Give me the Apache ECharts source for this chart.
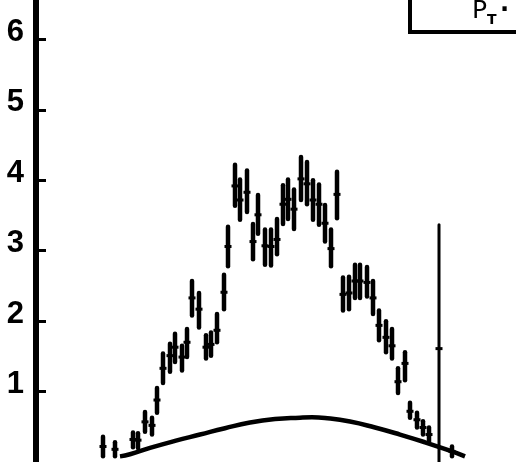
<!DOCTYPE html>
<html>
<head>
<meta charset="utf-8">
<script src="https://cdn.jsdelivr.net/npm/echarts@6/dist/echarts.min.js"></script>
<style>
  html, body { margin: 0; padding: 0; background: #fff; }
  #chart { width: 516px; height: 462px; }
</style>
</head>
<body>
<div id="chart"></div>
<script>
// Bin positions (arbitrary horizontal units) and measured yields with error limits
const binX = [6.7, 7.9, 9.7, 10.2, 10.9, 11.6, 12.1, 12.7, 13.4, 13.9, 14.6, 15.1,
  15.6, 16.3, 17.0, 17.5, 18.1, 18.8, 19.2, 19.9, 20.4, 21.1, 21.7, 22.2, 22.9, 23.5,
  24.1, 24.7, 25.2, 25.8, 26.5, 27.1, 27.7, 28.3, 28.9, 29.5, 30.1, 30.7, 31.3, 31.9,
  32.4, 33.1, 33.7, 34.3, 35.0, 35.6, 36.2, 36.9, 37.4, 38.1, 38.7, 39.3, 41.6];
const yieldVal = [0.22, 0.18, 0.32, 0.31, 0.57, 0.52, 0.88, 1.33, 1.51, 1.63, 1.49, 1.70,
  2.33, 2.17, 1.63, 1.67, 1.87, 2.41, 3.06, 3.92, 3.72, 3.83, 3.13, 3.51, 3.07, 3.06,
  3.16, 3.66, 3.73, 3.59, 4.02, 3.95, 3.72, 3.66, 3.39, 3.03, 3.80, 2.38, 2.40, 2.57,
  2.57, 2.55, 2.33, 1.94, 1.77, 1.65, 1.14, 1.40, 0.72, 0.60, 0.49, 0.39, 0.15];
const yieldLow = [0.08, 0.08, 0.21, 0.20, 0.43, 0.39, 0.70, 1.12, 1.28, 1.42, 1.30, 1.49,
  2.08, 1.91, 1.47, 1.51, 1.70, 2.17, 2.78, 3.64, 3.44, 3.55, 2.88, 3.24, 2.80, 2.79,
  2.95, 3.38, 3.45, 3.31, 3.72, 3.66, 3.44, 3.37, 3.13, 2.78, 3.46, 2.15, 2.17, 2.33,
  2.33, 2.35, 2.10, 1.73, 1.56, 1.47, 0.98, 1.16, 0.63, 0.49, 0.39, 0.29, 0.08];
const yieldHigh = [0.36, 0.28, 0.42, 0.41, 0.71, 0.63, 1.05, 1.54, 1.68, 1.82, 1.65, 1.89,
  2.57, 2.40, 1.80, 1.84, 2.10, 2.66, 3.34, 4.22, 4.01, 4.14, 3.38, 3.79, 3.30, 3.30,
  3.45, 3.93, 4.01, 3.87, 4.33, 4.26, 4.00, 3.94, 3.65, 3.30, 4.12, 2.62, 2.63, 2.80,
  2.80, 2.77, 2.57, 2.15, 2.00, 1.89, 1.33, 1.56, 0.84, 0.70, 0.58, 0.49, 0.22];

// Single bin with a large uncertainty
const wideX = [40.3];
const wideVal = [1.61];
const wideLow = [-0.15];
const wideHigh = [3.37];

// Smooth expectation curve
const curveX = [8.4, 9.4, 11.4, 13.9, 16.4, 18.9, 21.4, 23.9, 26.4, 27.6, 28.9, 31.4, 33.9, 36.4, 38.9, 41.4, 42.9];
const curveY = [0.08, 0.11, 0.20, 0.30, 0.39, 0.48, 0.56, 0.61, 0.63, 0.635, 0.625, 0.575, 0.49, 0.39, 0.28, 0.16, 0.08];

// Vertical axis tick labels
const yTicks = [1, 2, 3, 4, 5, 6];
const yTickLabels = ['1', '2', '3', '4', '5', '6'];

const toRows = (xs, v, lo, hi) => xs.map((x, i) => [x, v[i], lo[i], hi[i]]);

function errorBar(width) {
  return function (params, api) {
    const x = api.value(0);
    const c = api.coord([x, api.value(1)]);
    const lo = api.coord([x, api.value(2)]);
    const hi = api.coord([x, api.value(3)]);
    return {
      type: 'group',
      children: [
        { type: 'line', shape: { x1: lo[0], y1: lo[1], x2: hi[0], y2: hi[1] },
          style: { stroke: '#000', lineWidth: width, lineCap: 'round' } },
        { type: 'rect', shape: { x: c[0] - 3.5, y: c[1] - 1.5, width: 7, height: 3 },
          style: { fill: '#000' } }
      ]
    };
  };
}

const chart = echarts.init(document.getElementById('chart'), null, { renderer: 'canvas' });
chart.setOption({
  backgroundColor: '#fff',
  animation: false,
  grid: { left: 36, right: 0, top: 0, bottom: -6 },
  xAxis: { type: 'value', min: 0, max: 48, show: false },
  yAxis: {
    type: 'value', min: 0, max: 6.56,
    splitLine: { show: false },
    axisLine: { show: true, lineStyle: { color: '#000', width: 6 } },
    axisTick: { show: true, inside: true, length: 10, lineStyle: { color: '#000', width: 3 },
      customValues: yTicks },
    axisLabel: {
      customValues: yTicks,
      formatter: v => { const i = yTicks.indexOf(Math.round(v)); return i >= 0 ? '{n|' + yTickLabels[i] + '}' : ''; },
      margin: 12,
      color: '#000', fontSize: 31, fontWeight: 'bold', fontFamily: 'Liberation Sans',
      rich: {
        n: { color: '#000', fontSize: 31, fontWeight: 'bold', fontFamily: 'Liberation Sans',
          lineHeight: 31, padding: [0, 0, 14, 0] }
      }
    }
  },
  graphic: [
    { type: 'rect', shape: { x: 410, y: -10, width: 120, height: 42 },
      style: { fill: 'none', stroke: '#000', lineWidth: 4 } },
    { type: 'text', x: 472, y: -5,
      style: {
        text: '{p|P}{s|T} {d|·}',
        rich: {
          p: { fontSize: 25, fontFamily: 'DejaVu Sans', fill: '#000' },
          s: { fontSize: 14, fontFamily: 'DejaVu Sans', fontWeight: 'bold', fill: '#000', padding: [18, 0, 0, 0] },
          d: { fontSize: 24, fontFamily: 'DejaVu Sans', fontWeight: 'bold', fill: '#000' }
        }
      } }
  ],
  series: [
    { type: 'line', data: curveX.map((x, i) => [x, curveY[i]]), smooth: 0.5, symbol: 'none',
      lineStyle: { color: '#000', width: 4.5 } },
    { type: 'custom', data: toRows(binX, yieldVal, yieldLow, yieldHigh), renderItem: errorBar(4.5) },
    { type: 'custom', data: toRows(wideX, wideVal, wideLow, wideHigh), renderItem: errorBar(3) }
  ]
});
</script>
</body>
</html>
